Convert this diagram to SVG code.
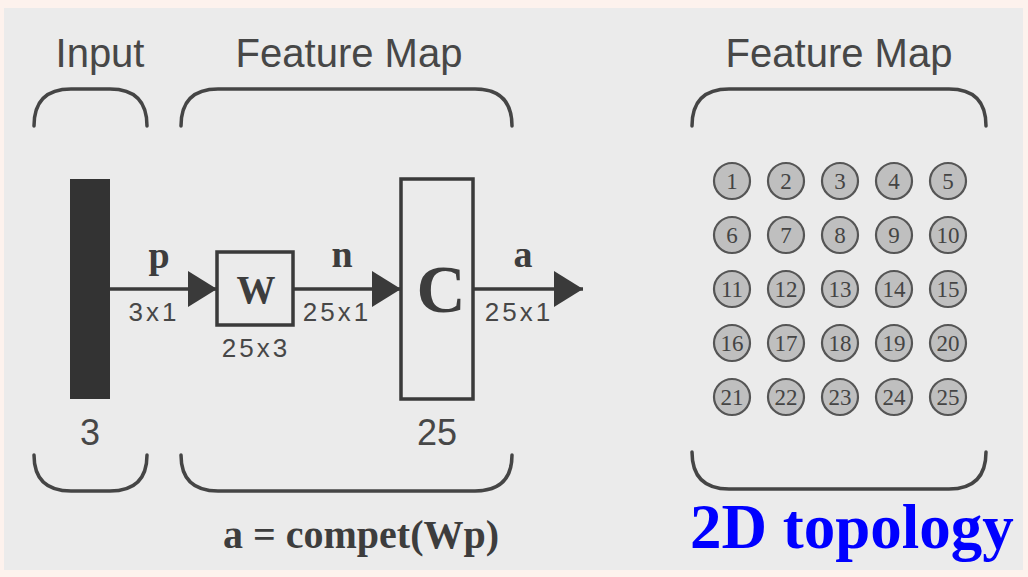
<svg xmlns="http://www.w3.org/2000/svg" width="1028" height="577" viewBox="0 0 1028 577">
<defs>
<marker id="ah" markerUnits="userSpaceOnUse" markerWidth="30" markerHeight="36" refX="29" refY="18" orient="auto">
<path d="M0,0 L29,18 L0,36 z" fill="#3a3a3a"/>
</marker>
<style>
.sans{font-family:"Liberation Sans",Arial,sans-serif;fill:#474747}
.serif{font-family:"Liberation Serif","Times New Roman",serif;font-weight:bold;fill:#3d3d3d}
.brace{fill:none;stroke:#454545;stroke-width:3.5;stroke-linecap:round}
.box{fill:none;stroke:#3a3a3a;stroke-width:3.5}
.conn{stroke:#3a3a3a;stroke-width:3.5;fill:none}
.cell circle{fill:#bfbfbf;stroke:#555;stroke-width:2.2}
.cell text{font-family:"Liberation Serif","Times New Roman",serif;font-size:23px;fill:#444;text-anchor:middle}
.lbl{font-size:26px;letter-spacing:3px}
</style>
</defs>
<rect x="0" y="0" width="1028" height="577" fill="#fdf2ed"/>
<rect x="4" y="8" width="1019" height="562" fill="#ebebeb"/>

<g id="braces">
<path class="brace" d="M34,126 Q34,89 71,89 L110,89 Q147,89 147,126"/>
<path class="brace" d="M181,126 Q181,89 218,89 L475,89 Q512,89 512,126"/>
<path class="brace" d="M692,126 Q692,89 729,89 L949,89 Q986,89 986,126"/>
<path class="brace" d="M34,455 Q34,491 71,491 L110,491 Q147,491 147,455"/>
<path class="brace" d="M181,455 Q181,491 218,491 L475,491 Q512,491 512,455"/>
<path class="brace" d="M692,452 Q692,489 729,489 L949,489 Q986,489 986,452"/>
</g>

<g id="titles">
<text class="sans" x="100" y="67" font-size="40" text-anchor="middle">Input</text>
<text class="sans" x="349" y="67" font-size="40" text-anchor="middle">Feature Map</text>
<text class="sans" x="839" y="67" font-size="40" text-anchor="middle">Feature Map</text>
</g>

<g id="input">
<rect x="70" y="179" width="40" height="220" fill="#333"/>
<text class="sans" x="90" y="445" font-size="36" text-anchor="middle">3</text>
</g>

<g id="W">
<rect class="box" x="217" y="252" width="76" height="73" fill="#ebebeb"/>
<text class="serif" x="256" y="303" font-size="39" text-anchor="middle">W</text>
<text class="sans lbl" x="256" y="357" text-anchor="middle">25x3</text>
</g>

<g id="C">
<rect class="box" x="401" y="179" width="72" height="220"/>
<text class="serif" x="441" y="312" font-size="68" text-anchor="middle">C</text>
<text class="sans" x="437" y="445" font-size="36" text-anchor="middle">25</text>
</g>

<g id="connectors">
<line class="conn" x1="110" y1="289" x2="217" y2="289" marker-end="url(#ah)"/>
<line class="conn" x1="293" y1="289" x2="401" y2="289" marker-end="url(#ah)"/>
<line class="conn" x1="473" y1="289" x2="583" y2="289" marker-end="url(#ah)"/>
<text class="serif" x="159" y="268" font-size="38" text-anchor="middle">p</text>
<text class="sans lbl" x="154" y="321" text-anchor="middle">3x1</text>
<text class="serif" x="342" y="267" font-size="38" text-anchor="middle">n</text>
<text class="sans lbl" x="337" y="321" text-anchor="middle">25x1</text>
<text class="serif" x="523" y="267" font-size="38" text-anchor="middle">a</text>
<text class="sans lbl" x="519" y="321" text-anchor="middle">25x1</text>
</g>

<g id="equation">
<text class="serif" x="361" y="548" font-size="40" text-anchor="middle">a = compet(Wp)</text>
</g>

<g id="grid">
<g class="cell"><circle cx="732" cy="181" r="18"/><text x="732" y="189">1</text></g>
<g class="cell"><circle cx="786" cy="181" r="18"/><text x="786" y="189">2</text></g>
<g class="cell"><circle cx="840" cy="181" r="18"/><text x="840" y="189">3</text></g>
<g class="cell"><circle cx="894" cy="181" r="18"/><text x="894" y="189">4</text></g>
<g class="cell"><circle cx="948" cy="181" r="18"/><text x="948" y="189">5</text></g>
<g class="cell"><circle cx="732" cy="235" r="18"/><text x="732" y="243">6</text></g>
<g class="cell"><circle cx="786" cy="235" r="18"/><text x="786" y="243">7</text></g>
<g class="cell"><circle cx="840" cy="235" r="18"/><text x="840" y="243">8</text></g>
<g class="cell"><circle cx="894" cy="235" r="18"/><text x="894" y="243">9</text></g>
<g class="cell"><circle cx="948" cy="235" r="18"/><text x="948" y="243">10</text></g>
<g class="cell"><circle cx="732" cy="289" r="18"/><text x="732" y="297">11</text></g>
<g class="cell"><circle cx="786" cy="289" r="18"/><text x="786" y="297">12</text></g>
<g class="cell"><circle cx="840" cy="289" r="18"/><text x="840" y="297">13</text></g>
<g class="cell"><circle cx="894" cy="289" r="18"/><text x="894" y="297">14</text></g>
<g class="cell"><circle cx="948" cy="289" r="18"/><text x="948" y="297">15</text></g>
<g class="cell"><circle cx="732" cy="343" r="18"/><text x="732" y="351">16</text></g>
<g class="cell"><circle cx="786" cy="343" r="18"/><text x="786" y="351">17</text></g>
<g class="cell"><circle cx="840" cy="343" r="18"/><text x="840" y="351">18</text></g>
<g class="cell"><circle cx="894" cy="343" r="18"/><text x="894" y="351">19</text></g>
<g class="cell"><circle cx="948" cy="343" r="18"/><text x="948" y="351">20</text></g>
<g class="cell"><circle cx="732" cy="397" r="18"/><text x="732" y="405">21</text></g>
<g class="cell"><circle cx="786" cy="397" r="18"/><text x="786" y="405">22</text></g>
<g class="cell"><circle cx="840" cy="397" r="18"/><text x="840" y="405">23</text></g>
<g class="cell"><circle cx="894" cy="397" r="18"/><text x="894" y="405">24</text></g>
<g class="cell"><circle cx="948" cy="397" r="18"/><text x="948" y="405">25</text></g>
</g>

<g id="caption">
<text x="690" y="548" font-family="'Liberation Serif','Times New Roman',serif" font-weight="bold" font-size="63" fill="#0000ff">2D topology</text>
</g>
</svg>
